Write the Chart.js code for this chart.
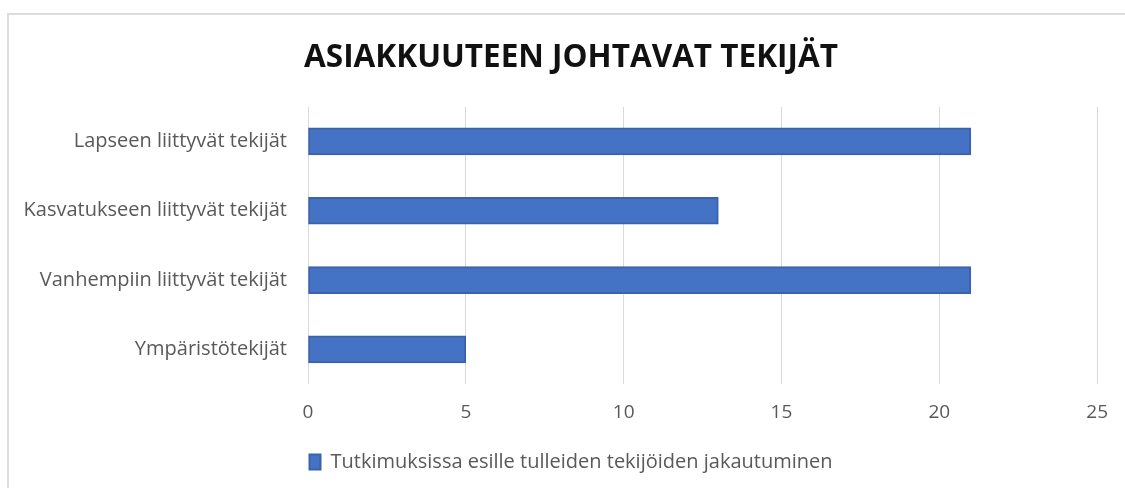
<!DOCTYPE html>
<html>
<head>
<meta charset="utf-8">
<script src="https://cdn.jsdelivr.net/npm/chart.js@4"></script>
<style>
  body { margin: 0; background: #fff; }
  #frame {
    position: absolute; left: 7px; top: 13px; width: 1130px; height: 490px;
    border-top: 2px solid #dcdcdc; border-left: 2px solid #dcdcdc;
  }
  #wrap { position: absolute; left: 0; top: 0; width: 1125px; height: 488px; }
</style>
</head>
<body>
<div id="frame"></div>
<div id="wrap"><canvas id="chart"></canvas></div>
<script>
// Data
const categories = [
    'Lapseen liittyvät tekijät',
    'Kasvatukseen liittyvät tekijät',
    'Vanhempiin liittyvät tekijät',
    'Ympäristötekijät'
];
const counts = [21, 13, 21, 5];
const seriesLabel = 'Tutkimuksissa esille tulleiden tekijöiden jakautuminen';
const xTicks = [0, 5, 10, 15, 20, 25];

const textColor = '#595959';
const fontFamily = "'Open Sans', 'Liberation Sans', sans-serif";

new Chart(document.getElementById('chart').getContext('2d'), {
    type: 'bar',
    data: {
        labels: categories,
        datasets: [{
            label: seriesLabel,
            data: counts,
            backgroundColor: '#4472C4',
            borderColor: '#3A62AD',
            borderWidth: 2,
            borderSkipped: false,
            barThickness: 27
        }]
    },
    options: {
        indexAxis: 'y',
        responsive: true,
        maintainAspectRatio: false,
        animation: false,
        layout: {
            // wide left padding keeps title and legend centred like the original
            padding: { left: 42, right: 25, top: 39, bottom: 6 }
        },
        plugins: {
            title: {
                display: true,
                text: 'ASIAKKUUTEEN JOHTAVAT TEKIJÄT',
                color: '#111',
                font: { family: fontFamily, size: 31.5, weight: 'bold' },
                padding: { top: 0, bottom: 30 }
            },
            legend: {
                position: 'bottom',
                labels: {
                    color: textColor,
                    font: { family: fontFamily, size: 20 },
                    boxWidth: 11,
                    boxHeight: 15,
                    padding: 10
                }
            },
            tooltip: { enabled: false }
        },
        scales: {
            x: {
                min: 0,
                max: 25,
                afterBuildTicks: function(scale) {
                    scale.ticks = xTicks.map(v => ({ value: v }));
                },
                grid: { color: '#d9d9d9', drawTicks: false },
                border: { display: false },
                ticks: {
                    color: textColor,
                    font: { family: fontFamily, size: 19 },
                    padding: 17
                },
                afterFit: function(scale) {
                    scale.height = 58;
                }
            },
            y: {
                grid: { display: false, drawTicks: false },
                border: { display: false },
                ticks: {
                    color: textColor,
                    font: { family: fontFamily, size: 20 },
                    padding: 21
                },
                afterFit: function(scale) {
                    scale.width = 266;
                    // let the long labels run into the left padding instead of clipping
                    scale._computeLabelArea = function() { return undefined; };
                }
            }
        }
    }
});
</script>
</body>
</html>
